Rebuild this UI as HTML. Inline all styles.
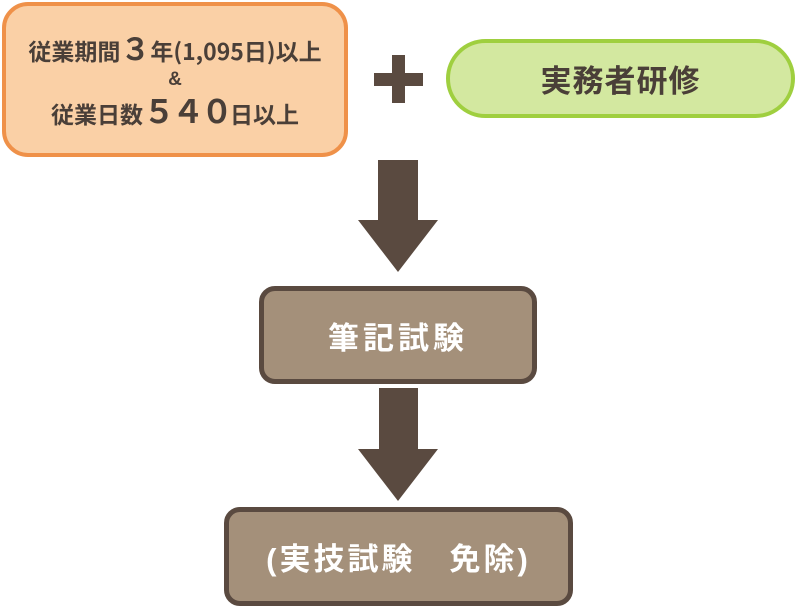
<!DOCTYPE html>
<html><head><meta charset="utf-8"><style>
body{margin:0;width:795px;height:606px;background:#fff;position:relative;overflow:hidden;font-family:"Liberation Sans","Noto Sans CJK JP",sans-serif;font-weight:bold}
.b{position:absolute;box-sizing:border-box;display:flex;align-items:center;justify-content:center;text-align:center}
.sh{position:absolute;background:#5a4a40}
.tri{position:absolute;width:0;height:0;border-left:40px solid transparent;border-right:40px solid transparent;border-top:52px solid #5a4a40}
.n{font-family:"Noto Sans CJK JP",sans-serif}
</style></head><body>
<div class="b" style="left:2px;top:2px;width:346px;height:155px;border:4px solid #ef9149;background:#fad0a6;border-radius:26px;color:#4a3f38;font-size:23px;line-height:34px;flex-direction:column">
<div class="n" style="white-space:nowrap">従業期間<span style="font-size:30px">３</span>年(1,095日)以上</div>
<div style="line-height:26px;font-size:19px">&amp;</div>
<div class="n" style="white-space:nowrap">従業日数<span style="font-size:32px;letter-spacing:-3px">５４０</span>日以上</div>
</div>
<div class="sh" style="left:374px;top:73px;width:49px;height:13px"></div>
<div class="sh" style="left:392px;top:55px;width:13px;height:48px"></div>
<div class="b" style="left:446px;top:39px;width:349px;height:79px;border:4px solid #9fcf3f;background:#d3e8a0;border-radius:40px;color:#4a3f38;font-size:31px;letter-spacing:1px">実務者研修</div>
<div class="sh" style="left:378px;top:160px;width:40px;height:62px"></div>
<div class="tri" style="left:358px;top:220px"></div>
<div class="b" style="left:259px;top:286px;width:278px;height:98px;border:5px solid #5a4a40;background:#a4907a;border-radius:16px;color:#fff;font-size:31px;letter-spacing:4px">筆記試験</div>
<div class="sh" style="left:379px;top:388px;width:39px;height:62px"></div>
<div class="tri" style="left:358px;top:449px"></div>
<div class="b" style="left:224px;top:507px;width:349px;height:99px;border:5px solid #5a4a40;background:#a4907a;border-radius:16px;color:#fff;font-size:31px;letter-spacing:3px;white-space:pre">(実技試験　免除)</div>
</body></html>
